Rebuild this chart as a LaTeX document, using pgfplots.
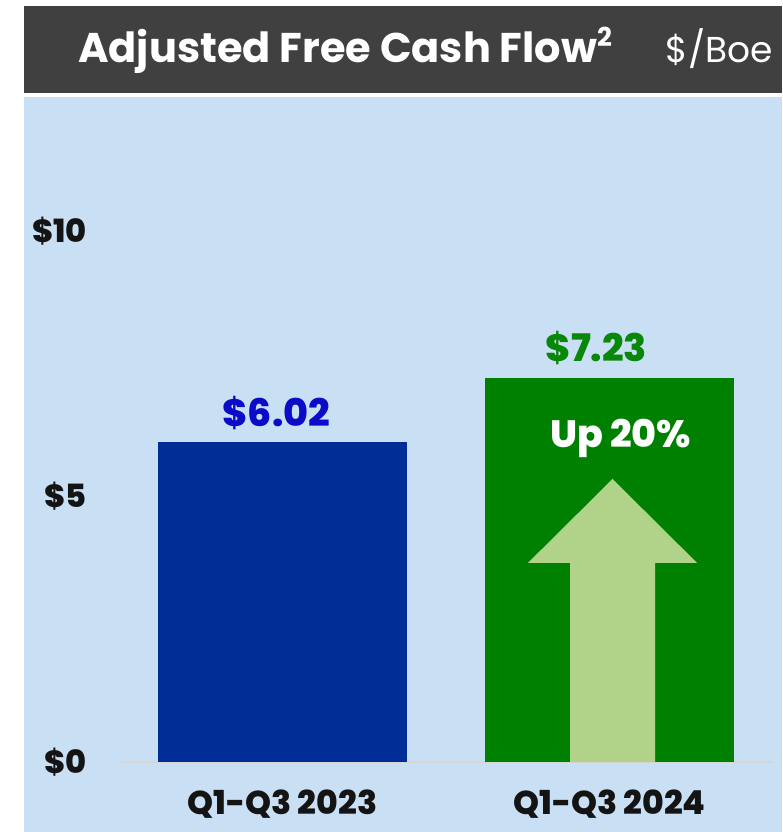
\documentclass[border=0pt]{standalone}
\usepackage{fontspec}
\setmainfont{Poppins}
\newfontfamily\heavy{Poppins ExtraBold}
\usepackage{pgfplots}
\pgfplotsset{compat=1.18}
\definecolor{bgblue}{RGB}{201,223,243}
\definecolor{headgray}{RGB}{64,64,64}
\definecolor{barblue}{RGB}{0,45,150}
\definecolor{bargreen}{RGB}{0,128,0}
\definecolor{arrowgreen}{RGB}{177,211,137}
\definecolor{valblue}{RGB}{12,12,200}
\definecolor{valgreen}{RGB}{8,135,8}
\definecolor{ticktext}{RGB}{20,20,20}
\definecolor{baseclr}{RGB}{214,214,214}

\begin{document}
\begin{tikzpicture}[x=1pt,y=1pt]
  % page frame and panels (pixel coords, y downwards)
  \fill[white] (0,0) rectangle (782,-832);
  \fill[headgray] (24,-6) rectangle (782,-93);
  \fill[bgblue] (24,-97) rectangle (782,-832);
  \path[use as bounding box] (0,0) rectangle (782,-832);

  \node[anchor=base west, text=white, inner sep=0pt,
        font=\fontsize{41.5}{43}\selectfont\bfseries] at (78,-63)
        {Adjusted Free Cash Flow\raisebox{0.40em}{\fontsize{26}{26}\selectfont 2}};
  \node[anchor=base east, text=white, inner sep=0pt,
        font=\fontsize{36}{38}\selectfont] at (773,-63) {\$/Boe};

  \begin{axis}[
      at={(119pt,-762pt)}, anchor=south west,
      scale only axis,
      width=654pt, height=637.2pt,
      xmin=-0.5, xmax=1.5,
      ymin=0, ymax=12,
      clip=false,
      axis line style={draw=none},
      major tick length=0pt,
      xtick={0,1},
      xticklabels={Q1-Q3 2023, Q1-Q3 2024},
      x tick label style={anchor=base, inner sep=0pt, yshift=-52pt,
        font=\fontsize{33}{34}\selectfont\heavy, text=ticktext},
      ytick={0,5,10},
      yticklabels={\$0,\$5,\$10},
      y tick label style={anchor=east, inner sep=0pt, xshift=-32pt,
        font=\fontsize{32}{33}\selectfont\heavy, text=ticktext},
    ]
    \draw[baseclr, line width=1.5pt] (axis cs:-0.5,0) -- (axis cs:1.5,0);

    \addplot[ybar, bar width=249pt, bar shift=0pt, fill=barblue, draw=none,
      nodes near coords={\$6.02},
      nodes near coords style={anchor=base, yshift=16pt, xshift=-6pt,
        text=valblue, font=\fontsize{38}{39}\selectfont\heavy}]
      coordinates {(0,6.02)};
    \addplot[ybar, bar width=249pt, bar shift=0pt, fill=bargreen, draw=none,
      nodes near coords={\$7.23},
      nodes near coords style={anchor=base, yshift=17pt, xshift=-13pt,
        text=valgreen, font=\fontsize{38}{39}\selectfont\heavy}]
      coordinates {(1,7.23)};

    % up arrow inside the 2024 bar
    \addplot[fill=arrowgreen, draw=none] coordinates {
      (0.8792,0) (0.8792,3.75) (0.7508,3.75) (1.0092,5.33)
      (1.2676,3.75) (1.1392,3.75) (1.1392,0)
    } -- cycle;

    \node[anchor=base, text=white, inner sep=0pt,
          font=\fontsize{38}{39}\selectfont\heavy]
          at (axis cs:1.034,5.92) {Up 20\%};
  \end{axis}
\end{tikzpicture}
\end{document}
